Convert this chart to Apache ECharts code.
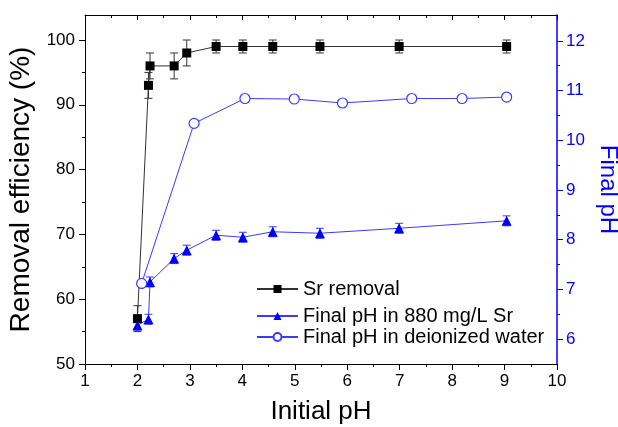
<!DOCTYPE html>
<html>
<head>
<meta charset="utf-8">
<script src="https://cdn.jsdelivr.net/npm/echarts@6/dist/echarts.min.js"></script>
<style>html,body{margin:0;padding:0;background:#fff}#c{width:618px;height:427px}</style>
</head>
<body>
<div id="c"></div>
<script>
// ---- data ----
var srX = [2.0, 2.21, 2.24, 2.70, 2.94, 3.50, 4.01, 4.58, 5.48, 6.99, 9.04];
var srY = [57.0, 93.0, 96.0, 96.0, 98.0, 99.0, 99.0, 99.0, 99.0, 99.0, 99.0];
var srErr = [2, 2, 2, 2, 2, 1, 1, 1, 1, 1, 1];

var ph880X = [2.0, 2.21, 2.24, 2.70, 2.94, 3.50, 4.01, 4.58, 5.48, 6.99, 9.04];
var ph880Y = [6.28, 6.40, 7.15, 7.62, 7.79, 8.09, 8.05, 8.16, 8.13, 8.23, 8.38];
var ph880Err = [0.1, 0.1, 0.1, 0.1, 0.1, 0.1, 0.1, 0.1, 0.1, 0.1, 0.1];

var diX = [2.08, 3.08, 4.05, 4.99, 5.91, 7.23, 8.19, 9.04];
var diY = [7.12, 10.34, 10.84, 10.83, 10.75, 10.84, 10.84, 10.87];

var xTicks = [1, 2, 3, 4, 5, 6, 7, 8, 9, 10];
var leftTicks = [50, 60, 70, 80, 90, 100];
var leftMinor = [55, 65, 75, 85, 95];
var rightTicks = [6, 7, 8, 9, 10, 11, 12];
var rightMinor = [6.5, 7.5, 8.5, 9.5, 10.5, 11.5];

var names = ['Sr removal', 'Final pH in 880 mg/L Sr', 'Final pH in deionized water'];

// ---- build ----
function pairs(xs, ys) { return xs.map(function (x, i) { return [x, ys[i]]; }); }
function errs(xs, ys, es) { return xs.map(function (x, i) { return [x, ys[i] - es[i], ys[i] + es[i]]; }); }

function errRender(color) {
  return function (params, api) {
    var lo = api.coord([api.value(0), api.value(1)]);
    var hi = api.coord([api.value(0), api.value(2)]);
    var w = 4;
    var st = { stroke: color, lineWidth: 1 };
    return {
      type: 'group',
      children: [
        { type: 'line', shape: { x1: lo[0], y1: lo[1], x2: hi[0], y2: hi[1] }, style: st },
        { type: 'line', shape: { x1: lo[0] - w, y1: lo[1], x2: lo[0] + w, y2: lo[1] }, style: st },
        { type: 'line', shape: { x1: hi[0] - w, y1: hi[1], x2: hi[0] + w, y2: hi[1] }, style: st }
      ]
    };
  };
}

var FONT = 'Arial, "Liberation Sans", sans-serif';
var BLUE = '#0000ff';
var BLUE_L = '#3a3aff';

function legendAt(name, top) {
  return { data: [name], left: 256, top: top, itemWidth: 41, itemHeight: 10, padding: 0,
    textStyle: { fontSize: 20, color: '#000', fontFamily: FONT } };
}

var chart = echarts.init(document.getElementById('c'), null, { renderer: 'canvas' });
chart.setOption({
  animation: false,
  backgroundColor: '#fff',
  textStyle: { fontFamily: FONT },
  grid: { left: 85, right: 61, top: 15, bottom: 63, containLabel: false, outerBoundsMode: 'none' },
  legend: [legendAt(names[0], 279), legendAt(names[1], 306), legendAt(names[2], 327)],
  xAxis: [
    {
      type: 'value', position: 'bottom', min: 1, max: 10, interval: 1,
      name: 'Initial pH', nameLocation: 'middle', nameGap: 35,
      nameTextStyle: { fontSize: 26, color: '#000', fontFamily: FONT },
      axisLine: { onZero: false, lineStyle: { color: '#000', width: 1 } },
      axisTick: { show: true, inside: false, length: 6, lineStyle: { color: '#000' } },
      minorTick: { show: true, splitNumber: 2, length: 3, lineStyle: { color: '#000' } },
      axisLabel: { fontSize: 17, color: '#000', margin: 9, fontFamily: FONT },
      splitLine: { show: false }, minorSplitLine: { show: false }
    },
    {
      type: 'value', position: 'top', min: 1, max: 10, interval: 1,
      axisLine: { onZero: false, lineStyle: { color: '#000', width: 1 } },
      axisTick: { show: true, inside: true, length: 5, lineStyle: { color: '#000' } },
      minorTick: { show: true, splitNumber: 2, length: 3, lineStyle: { color: '#000' } },
      axisLabel: { show: false },
      splitLine: { show: false }
    }
  ],
  yAxis: [
    {
      type: 'value', position: 'left', min: 50, max: 103.86,
      name: 'Removal efficiency (%)', nameLocation: 'middle', nameGap: 45,
      nameTextStyle: { fontSize: 28, color: '#000', fontFamily: FONT },
      axisLine: { show: true, onZero: false, lineStyle: { color: '#000', width: 1 } },
      axisTick: { show: true, inside: false, length: 6, customValues: leftTicks, lineStyle: { color: '#000' } },
      axisLabel: { fontSize: 17, color: '#000', margin: 10, customValues: leftTicks, fontFamily: FONT },
      splitLine: { show: false }
    },
    {
      type: 'value', position: 'right', min: 5.5, max: 12.52,
      name: 'Final pH', nameLocation: 'middle', nameGap: 35, nameRotate: -90,
      nameTextStyle: { fontSize: 24, color: BLUE, fontFamily: FONT },
      axisLine: { show: true, onZero: false, lineStyle: { color: BLUE, width: 1.5 } },
      axisTick: { show: true, inside: false, length: 6, customValues: rightTicks, lineStyle: { color: BLUE } },
      axisLabel: { fontSize: 17, color: BLUE, margin: 9, customValues: rightTicks, fontFamily: FONT },
      splitLine: { show: false }
    },
    {
      type: 'value', position: 'left', min: 50, max: 103.86,
      axisLine: { show: false },
      axisTick: { show: true, inside: false, length: 3, customValues: leftMinor, lineStyle: { color: '#000' } },
      axisLabel: { show: false }, splitLine: { show: false }
    },
    {
      type: 'value', position: 'right', min: 5.5, max: 12.52,
      axisLine: { show: false },
      axisTick: { show: true, inside: false, length: 3, customValues: rightMinor, lineStyle: { color: BLUE } },
      axisLabel: { show: false }, splitLine: { show: false }
    }
  ],
  series: [
    {
      type: 'custom', name: 'srErr', xAxisIndex: 0, yAxisIndex: 0, z: 1,
      renderItem: errRender('#333'), data: errs(srX, srY, srErr),
      encode: { x: 0, y: [1, 2] }, silent: true
    },
    {
      type: 'custom', name: 'phErr', xAxisIndex: 0, yAxisIndex: 1, z: 1,
      renderItem: errRender(BLUE_L), data: errs(ph880X, ph880Y, ph880Err),
      encode: { x: 0, y: [1, 2] }, silent: true
    },
    {
      type: 'line', name: names[0], xAxisIndex: 0, yAxisIndex: 0, z: 3,
      data: pairs(srX, srY), symbol: 'rect', symbolSize: 9,
      lineStyle: { color: '#333', width: 1 }, itemStyle: { color: '#000' }
    },
    {
      type: 'line', name: names[1], xAxisIndex: 0, yAxisIndex: 1, z: 3,
      data: pairs(ph880X, ph880Y), symbol: 'triangle', symbolSize: 10,
      lineStyle: { color: BLUE_L, width: 1 }, itemStyle: { color: BLUE }
    },
    {
      type: 'line', name: names[2], xAxisIndex: 0, yAxisIndex: 1, z: 3,
      data: pairs(diX, diY), symbol: 'circle', symbolSize: 10,
      lineStyle: { color: BLUE_L, width: 1 },
      itemStyle: { color: '#fff', borderColor: BLUE_L, borderWidth: 1.2 }
    }
  ]
});
</script>
</body>
</html>
